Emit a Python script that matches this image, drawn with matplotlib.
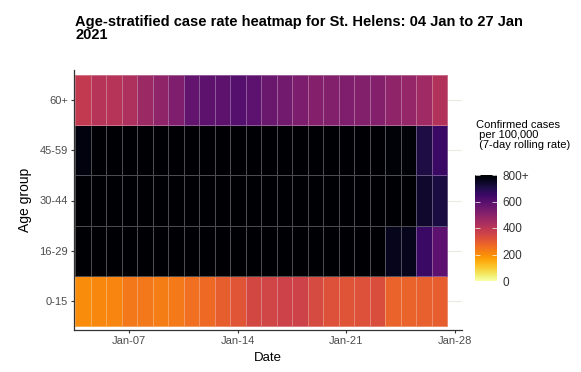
"""
plot.py - Age-stratified case rate heatmap for St. Helens.
"""

import numpy as np
import pandas as pd
import matplotlib
matplotlib.use("Agg")
import matplotlib.pyplot as plt
import matplotlib.dates as mdates
from matplotlib.colors import Normalize

plt.rcParams["font.family"] = ["Liberation Sans", "DejaVu Sans"]

dates = pd.date_range("2021-01-04", "2021-01-27", freq="D")
age_groups = ["0-15", "16-29", "30-44", "45-59", "60+"]

# 7-day rolling rate per 100,000 (values above 800 show as black)
rate_0_15 = [200, 210, 215, 240, 240, 230, 235, 255, 265, 290, 310, 345,
             350, 360, 360, 340, 320, 315, 320, 330, 280, 280, 285, 290]
rate_16_29 = [1050, 1120, 1180, 1210, 1250, 1260, 1240, 1200, 1150, 1120, 1080, 1040,
              1000, 980, 960, 930, 900, 880, 860, 830, 760, 760, 655, 590]
rate_30_44 = [920, 960, 1000, 1030, 1060, 1080, 1070, 1050, 1030, 1010, 990, 970,
              950, 930, 910, 900, 880, 860, 850, 830, 810, 805, 735, 710]
rate_45_59 = [780, 830, 870, 900, 930, 950, 960, 950, 940, 930, 920, 910,
              900, 890, 880, 870, 860, 850, 830, 815, 790, 790, 705, 655]
rate_60 = [385, 410, 410, 430, 465, 490, 520, 575, 585, 585, 600, 590,
           560, 545, 525, 510, 515, 520, 515, 510, 490, 475, 455, 420]

rates = np.array([rate_0_15, rate_16_29, rate_30_44, rate_45_59, rate_60])

W, H = 581, 372
fig = plt.figure(figsize=(W / 100, H / 100), dpi=100)
ax = fig.add_axes([74 / W, 1 - 330 / H, (462 - 74) / W, (330 - 70) / H])

x_num = mdates.date2num(dates)
x_edges = np.append(x_num - 0.5, x_num[-1] + 0.5)
y_edges = np.arange(len(age_groups) + 1) + 0.5

cmap = plt.get_cmap("inferno_r")
norm = Normalize(vmin=0, vmax=800, clip=True)

# light horizontal grid lines (only visible beside the tiles)
for i in range(len(age_groups)):
    ax.axhline(i + 1, color="#ebebe0", linewidth=0.8, zorder=0)

mesh = ax.pcolormesh(x_edges, y_edges, rates, cmap=cmap, norm=norm,
                     edgecolors=(1, 1, 1, 0.3), linewidth=0.5, zorder=1)

ax.set_xlim(x_num[0] - 0.5 - 1 / 15.5, x_num[-1] + 0.5 + 15 / 15.5)
ax.set_ylim(0.5 - 4 / 50.2, 5.5 + 5 / 50.2)

ax.set_yticks(range(1, len(age_groups) + 1))
ax.set_yticklabels(age_groups)
tick_dates = pd.to_datetime(["2021-01-07", "2021-01-14", "2021-01-21", "2021-01-28"])
ax.set_xticks(mdates.date2num(tick_dates))
ax.xaxis.set_major_formatter(mdates.DateFormatter("%b-%d"))

for side in ["top", "right"]:
    ax.spines[side].set_visible(False)
for side in ["left", "bottom"]:
    ax.spines[side].set_color("#333333")
    ax.spines[side].set_linewidth(0.9)
ax.tick_params(axis="both", length=2.5, width=0.8, color="#333333",
               labelsize=8, labelcolor="#4d4d4d", pad=2)

ax.set_xlabel("Date", fontsize=9.5, labelpad=4)
ax.set_ylabel("Age group", fontsize=10, labelpad=5)

fig.text(75 / W, 1 - 15 / H,
         "Age-stratified case rate heatmap for St. Helens: 04 Jan to 27 Jan\n2021",
         fontsize=10.5, fontweight="bold", ha="left", va="top", linespacing=0.92)

# colourbar
cax = fig.add_axes([475 / W, 1 - 281 / H, 22 / W, 106 / H])
cb = fig.colorbar(mesh, cax=cax)
cb.outline.set_visible(False)
cb.set_ticks([0, 200, 400, 600, 800])
cb.set_ticklabels(["0", "200", "400", "600", "800+"])
cax.tick_params(axis="y", direction="in", length=3.5, width=0.5, color="white",
                labelsize=8.5, labelcolor="#333333", pad=4, left=True, right=True)

fig.text(476 / W, 1 - 120 / H,
         "Confirmed cases\n per 100,000\n (7-day rolling rate)",
         fontsize=8, ha="left", va="top", linespacing=1.0)

plt.savefig("out.png", dpi=100)
print("Saved: out.png")
plt.close()
